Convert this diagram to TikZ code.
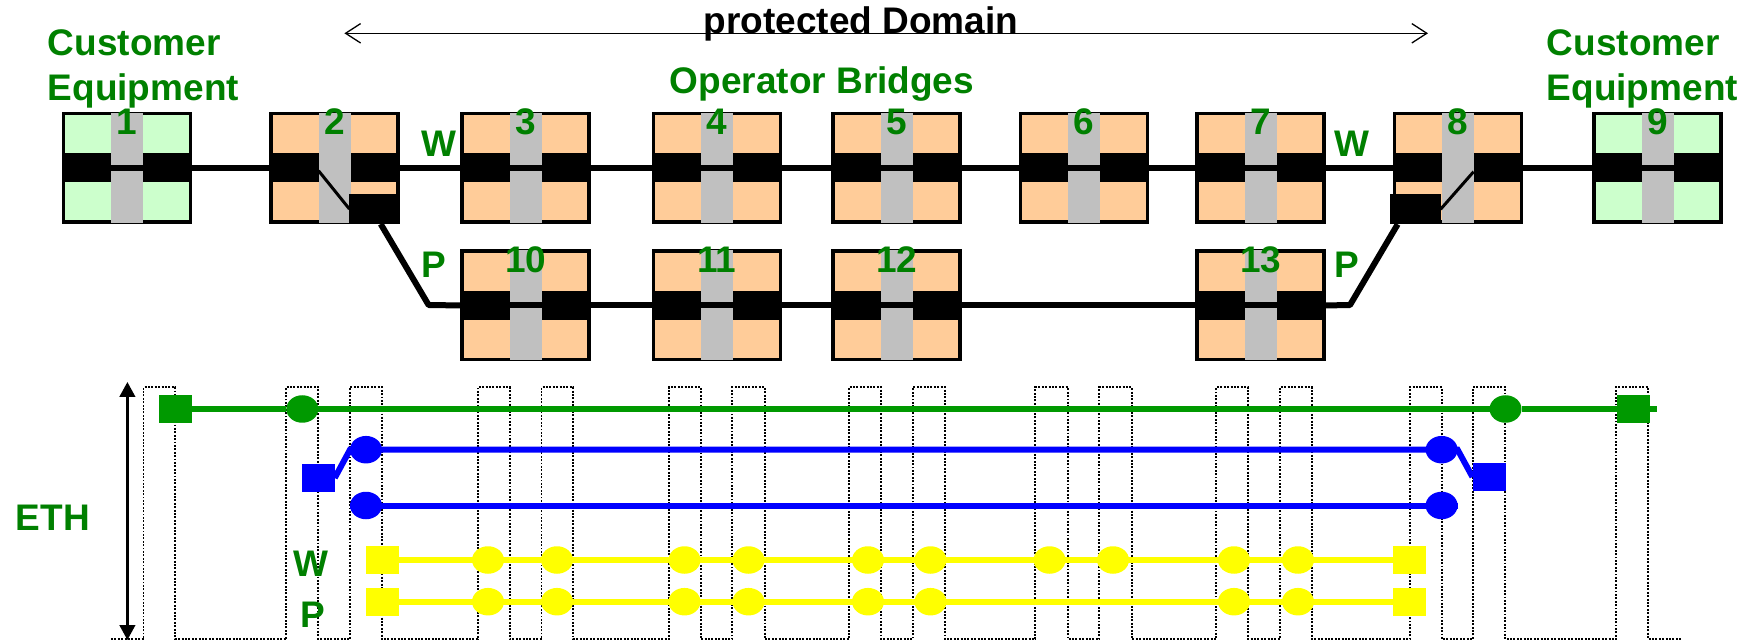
\documentclass[tikz,border=0pt]{standalone}
\usepackage{fontspec}
\setmainfont{Liberation Sans}
\usetikzlibrary{arrows.meta,calc,shapes.geometric}
\definecolor{txtgreen}{RGB}{0,128,0}
\definecolor{lngreen}{RGB}{0,153,0}
\definecolor{peach}{RGB}{255,204,153}
\definecolor{palegreen}{RGB}{204,255,204}
\definecolor{bargray}{RGB}{192,192,192}
\definecolor{ylw}{RGB}{255,255,0}
\definecolor{blu}{RGB}{0,0,255}
\tikzset{
  lbl/.style={font=\fontsize{18.5pt}{22.5pt}\selectfont\bfseries, inner sep=0pt, outer sep=0pt},
  greenlbl/.style={lbl, text=txtgreen},
  bridgebox/.style={draw=black, line width=1.75pt, minimum width=63.5pt, minimum height=54.25pt, inner sep=0pt, outer sep=0pt},
  wire/.style={line width=3pt, black, line join=round},
  swline/.style={line width=1.5pt, black},
  swblock/.style={fill=black, minimum width=25.3pt, minimum height=15pt, inner sep=0pt, outer sep=0pt},
  wave/.style={line width=0.95pt, dash pattern=on 0.95pt off 0.75pt},
  sq/.style={rectangle, minimum width=16.5pt, minimum height=14pt, inner sep=0pt, outer sep=0pt},
  dot/.style={ellipse, minimum width=16pt, minimum height=13.75pt, inner sep=0pt, outer sep=0pt},
  gline/.style={line width=3.2pt, lngreen},
  bline/.style={line width=3pt, blu},
  yline/.style={line width=3pt, ylw},
}
\newcommand\mkbridge[5]{%
  \node[bridgebox, fill=#4] (#1) at (#2,#3) {};
  \fill[black] (#2-65.25,#3-14.5) rectangle (#2+65.25,#3+14.5);
  \fill[bargray] (#2-16,#3-55) rectangle (#2+16,#3+55);
  \node[greenlbl] (#1n) at (#2,#3-46) {#5};
}
\begin{document}
\begin{tikzpicture}[x=0.5pt,y=-0.5pt]
\fill[white] (0,0) rectangle (1756,641);
\useasboundingbox (0,0) rectangle (1756,641);

% ---------- protected domain arrow ----------
\coordinate (pdL) at (344.4,33.3);
\coordinate (pdR) at (1428,33.3);
\draw[line width=0.65pt, {Straight Barb[length=7.5pt,width=9.7pt]}-{Straight Barb[length=7.5pt,width=9.7pt]}] (pdL) -- (pdR);
\node[lbl, anchor=base] (pdtext) at (861,33.3) {protected Domain};

% ---------- titles ----------
\node[greenlbl, align=left, anchor=north west] (ceL) at (47.8,29.7) {Customer\\Equipment};
\node[greenlbl, align=left, anchor=north west] (ceR) at (1546.8,29.7) {Customer\\Equipment};
\node[greenlbl, anchor=base] (ob) at (822,93.3) {Operator Bridges};

% ---------- bridges ----------
\mkbridge{b1}{127.2}{168}{palegreen}{1}
\mkbridge{b2}{334.5}{168}{peach}{2}
\mkbridge{b3}{525.7}{168}{peach}{3}
\mkbridge{b4}{716.8}{168}{peach}{4}
\mkbridge{b5}{896.6}{168}{peach}{5}
\mkbridge{b6}{1084}{168}{peach}{6}
\mkbridge{b7}{1260.7}{168}{peach}{7}
\mkbridge{b8}{1458.2}{168}{peach}{8}
\mkbridge{b9}{1657.7}{168}{palegreen}{9}
\mkbridge{b10}{525.7}{305.5}{peach}{10}
\mkbridge{b11}{716.8}{305.5}{peach}{11}
\mkbridge{b12}{896.6}{305.5}{peach}{12}
\mkbridge{b13}{1260.7}{305.5}{peach}{13}

% switch blocks
\node[swblock] (s2) at (374.7,209) {};
\node[swblock] (s8) at (1415.25,209.3) {};
\draw[swline] ($(b2.center)+(-16,2.7)$) -- (s2.west);
\draw[swline] (s8.east) -- ($(b8.center)+(15.4,3.7)$);

% working path
\draw[wire] (b1.west) -- (b2.west);
\draw[wire] (b2.east) -- (b8.west);
\draw[wire] (b8.east) -- (b9.east);
% protection path
\coordinate (p2) at (428.6,305);
\coordinate (p8) at (1350,305);
\draw[wire] ([xshift=3pt]s2.south) -- (p2) -- (b10.west);
\draw[wire] (b10.west) -- (b13.east);
\draw[wire] (b13.east) -- (p8) -- ([xshift=-8.8pt]s8.south);

\node[greenlbl] (wL) at (439,144) {W};
\node[greenlbl] (pL) at (434,265) {P};
\node[greenlbl] (wR) at (1351.5,144) {W};
\node[greenlbl] (pR) at (1347,265) {P};

% ---------- ETH section ----------
\draw[wave] (111,639.3)
  \foreach \a/\b in {143.5/175.3, 286.2/318.4, 350.1/381.9, 477.6/509.7, 541.5/573.2,
     668.8/700.9, 732.3/764.8, 849/881.2, 912.9/945, 1035.4/1067.9, 1099.3/1131.8,
     1216.3/1248.2, 1279.7/1312, 1409.7/1441.7, 1472.8/1505.1, 1616.1/1648.4}
  { -- (\a,639.3) -- (\a,387.3) -- (\b,387.3) -- (\b,639.3) } -- (1680.7,639.3);

\coordinate (ethTop) at (127.4,382);
\coordinate (ethBot) at (127.4,640);
\draw[line width=1.3pt, {Triangle[length=7.5pt,width=7.8pt]}-{Triangle[length=7.5pt,width=7.8pt]}] (ethTop) -- (ethBot);
\node[greenlbl] (eth) at (53,518) {ETH};

% green
\node[sq, fill=lngreen] (gs1) at (175.3,409) {};
\node[dot, fill=lngreen] (gc1) at (302.3,409) {};
\node[dot, fill=lngreen] (gc2) at (1505.5,409) {};
\node[sq, fill=lngreen] (gs2) at (1633.3,409) {};
\coordinate (gend) at (1656.7,409);
\draw[gline] (gs1) -- (gc1) -- (gc2) -- (gs2) -- (gend);

% blue
\node[sq, fill=blu] (bsL) at (318.2,478) {};
\node[sq, fill=blu] (bsR) at (1489,477) {};
\node[dot, fill=blu] (bcUL) at (366,449.7) {};
\node[dot, fill=blu] (bcLL) at (366,505.5) {};
\node[dot, fill=blu] (bcUR) at (1441.6,449.7) {};
\node[dot, fill=blu] (bcLR) at (1441.6,505.5) {};
\draw[bline] (bsL.east) -- (bcUL.west) -- (bcUR.east) -- (bsR.west);
\draw[bline] (bcLL.west) -- (bcLR.east);

% yellow
\node[sq, fill=ylw] (ysW1) at (382.7,560) {};
\node[sq, fill=ylw] (ysW2) at (1409,560) {};
\node[sq, fill=ylw] (ysP1) at (382.7,601.7) {};
\node[sq, fill=ylw] (ysP2) at (1409,601.7) {};
\foreach \x [count=\i] in {488,557,684.5,748.5,868,930.5,1049.5,1113,1234,1298}
  \node[dot, fill=ylw] (yw\i) at (\x,560) {};
\foreach \x [count=\i] in {488,557,684.5,748.5,868,930.5,1234,1298}
  \node[dot, fill=ylw] (yp\i) at (\x,601.7) {};
\draw[yline] (ysW1) -- (ysW2);
\draw[yline] (ysP1) -- (ysP2);

\node[greenlbl] (wB) at (311.3,564) {W};
\node[greenlbl] (pB) at (312.8,614.5) {P};
\end{tikzpicture}
\end{document}
